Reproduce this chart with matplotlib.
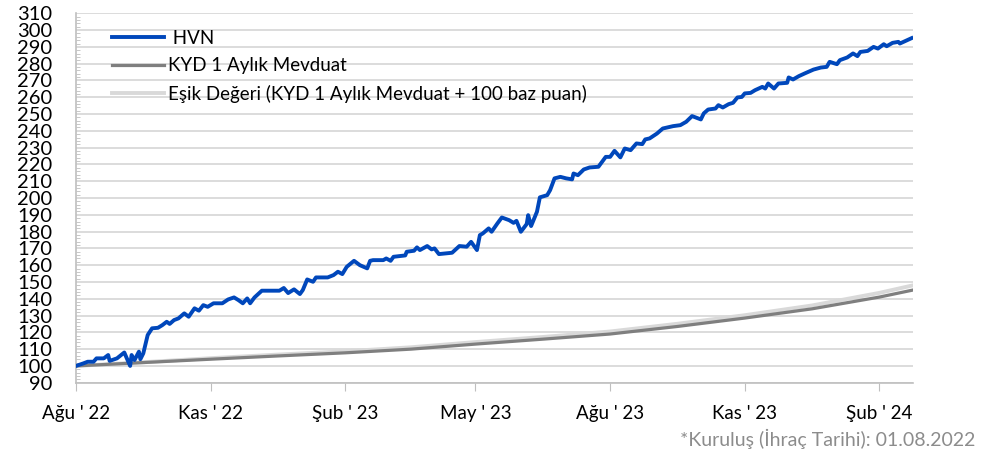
import pandas as pd
import numpy as np
import matplotlib.pyplot as plt
import matplotlib.dates as mdates
from matplotlib.ticker import MultipleLocator

plt.rcParams["font.family"] = ["Lato", "DejaVu Sans"]

launch = pd.Timestamp("2022-08-01")

# HVN fund price (days after launch, index value)
hvn_days = [0, 5, 8, 12, 14, 19, 22, 23, 28, 33, 37, 38, 40, 43, 44, 46, 49, 52, 56, 59,
            62, 64, 67, 70, 74, 77, 81, 84, 87, 90, 94, 100, 104, 108, 111, 114, 117, 119,
            122, 127, 139, 142, 145, 149, 153, 155, 158, 162, 164, 172, 176, 179, 182, 185,
            190, 194, 199, 201, 203, 210, 212, 215, 217, 225, 226, 231, 233, 235, 240, 243,
            245, 248, 257, 259, 262, 267, 270, 274, 276, 278, 282, 284, 288, 291, 296, 299,
            301, 304, 308, 309, 311, 315, 317, 322, 324, 327, 331, 335, 339, 340, 343, 347,
            351, 357, 362, 365, 368, 372, 375, 379, 383, 387, 389, 392, 397, 401, 408, 413,
            417, 421, 427, 429, 432, 437, 439, 442, 446, 449, 452, 455, 457, 461, 464, 469,
            471, 473, 477, 480, 486, 487, 490, 494, 498, 504, 509, 513, 515, 520, 522, 527,
            531, 534, 536, 541, 545, 548, 552, 554, 558, 562, 563, 567, 571]
hvn_vals = [100, 101.5, 102.5, 102.5, 104.5, 104.5, 106.5, 103, 104.5, 108, 100, 106.5,
            103.5, 108.5, 104, 107.5, 118.4, 122.4, 122.7, 124.3, 126.3, 125, 127.3, 128.3,
            131.3, 129.3, 134.3, 132.9, 136.2, 135.2, 137.3, 137.3, 139.6, 140.8, 139.2,
            137.3, 140.2, 137.3, 140.8, 144.8, 144.8, 146.4, 143.4, 145.6, 142.8, 145.2,
            151.5, 150.1, 152.7, 152.7, 154.1, 156.1, 154.7, 159, 162.6, 160, 158.1, 162.6,
            163, 163, 164, 162.6, 165, 165.8, 168, 168.6, 170.6, 169, 171.4, 169.4, 170,
            166.6, 167.4, 169, 171.4, 171, 173.9, 169, 177.9, 178.9, 181.9, 179.9, 184.9,
            188.4, 186.8, 185.2, 186.4, 179.9, 184.5, 189.8, 183.3, 191.8, 200.4, 201.7,
            204.7, 211.7, 212.6, 211.7, 211.1, 214.6, 213.6, 217, 218.2, 218.6, 224.5,
            224.5, 228.1, 224.2, 229.5, 228.5, 232.5, 232.1, 234.9, 235.5, 238.4, 241.4,
            242.8, 243.4, 245.4, 248.8, 246.8, 250.4, 252.7, 253.3, 255.3, 253.9, 255.9,
            256.7, 259.9, 260.2, 262.3, 262.6, 264.2, 266.2, 265.2, 268.2, 265.2, 268.2,
            268.6, 271.8, 270.6, 272.6, 274.2, 276.5, 277.7, 278.1, 281.1, 279.7, 282.1,
            283.7, 286.1, 284.5, 287, 287.6, 290, 289, 291.6, 290.4, 292.4, 293, 292,
            293.6, 295.2]

# benchmark lines (days after launch)
bench_days = [0, 46, 92, 137, 184, 229, 273, 320, 365, 411, 457, 503, 549, 572]
kyd_vals = [100, 102, 104, 105.9, 107.8, 110, 113, 116, 119, 123.5, 128.5, 134, 141, 145.2]
esik_vals = [100, 102.2, 104.6, 106.7, 108.7, 111.1, 114.2, 117.3, 120.5, 125.1, 130.2,
             136, 143.5, 148]

hvn_x = launch + pd.to_timedelta(hvn_days, unit="D")
bench_x = launch + pd.to_timedelta(bench_days, unit="D")

fig = plt.figure(figsize=(9.92, 4.59), dpi=100)
ax = fig.add_axes([0.0766, 0.1662, 0.8438, 0.8048])

ax.plot(bench_x, kyd_vals, color="#7f7f7f", lw=2.3, label="KYD 1 Aylık Mevduat", zorder=3)
ax.plot(bench_x, esik_vals, color="#d9d9d9", lw=2.8, label="Eşik Değeri (KYD 1 Aylık Mevduat + 100 baz puan)", zorder=2.5)
ax.plot(hvn_x, hvn_vals, color="#0047bb", lw=2.8, label=" HVN", zorder=4)

ax.set_ylim(90, 310)
ax.yaxis.set_major_locator(MultipleLocator(10))
ax.yaxis.set_minor_locator(MultipleLocator(2))
ax.set_xlim(launch, pd.Timestamp("2024-02-24"))
ticks = pd.date_range("2022-08-01", "2024-02-01", freq="3MS")
ax.set_xticks(ticks)
tr = {1: "Oca", 2: "Şub", 3: "Mar", 4: "Nis", 5: "May", 6: "Haz", 7: "Tem", 8: "Ağu",
      9: "Eyl", 10: "Eki", 11: "Kas", 12: "Ara"}
ax.set_xticklabels(["{} ' {}".format(tr[t.month], str(t.year)[2:]) for t in ticks])

ax.grid(axis="y", color="#d9d9d9", lw=1.3, zorder=0)
for t in ticks[1:]:
    ax.axvline(t, color="white", lw=2, zorder=1)

for s in ["top", "right"]:
    ax.spines[s].set_visible(False)
for s in ["left", "bottom"]:
    ax.spines[s].set_color("#bfbfbf")
    ax.spines[s].set_linewidth(1.2)

ax.tick_params(axis="y", which="major", length=0, labelsize=14.5, pad=17, colors="black")
ax.tick_params(axis="y", which="minor", length=3, direction="in", color="#bfbfbf")
ax.tick_params(axis="x", length=6, color="#bfbfbf", labelsize=13.5, pad=10)

ax.legend(loc="upper left", bbox_to_anchor=(0.043, 0.956), frameon=False, fontsize=13.5,
          borderpad=0, borderaxespad=0,
          handlelength=2.8, handletextpad=0.2, labelspacing=0.56,
          handles=[ax.lines[2], ax.lines[0], ax.lines[1]])

fig.text(0.983, 0.022, "*Kuruluş (İhraç Tarihi): 01.08.2022", ha="right", va="bottom",
         fontsize=14, color="#8c8c8c")

fig.savefig("out.png", dpi=100)
